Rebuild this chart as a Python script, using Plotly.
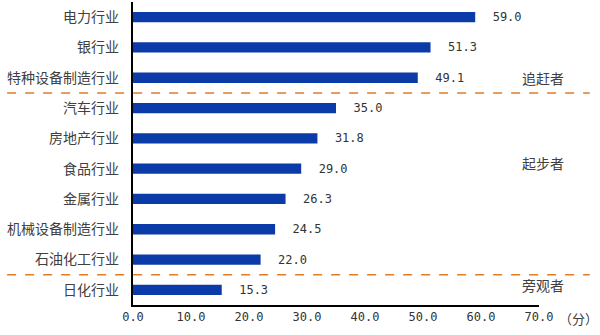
import plotly.graph_objects as go

categories = ["电力行业", "银行业", "特种设备制造行业", "汽车行业", "房地产行业",
              "食品行业", "金属行业", "机械设备制造行业", "石油化工行业", "日化行业"]
values = [59.0, 51.3, 49.1, 35.0, 31.8, 29.0, 26.3, 24.5, 22.0, 15.3]
tick_vals = [0, 10, 20, 30, 40, 50, 60, 70]
tick_text = ["0.0", "10.0", "20.0", "30.0", "40.0", "50.0", "60.0", "70.0"]
groups = ["追赶者", "起步者", "旁观者"]
group_y = [2, 4.8, 8.83]
divider_y = [2.5, 8.5]

num_font = "DejaVu Sans Mono"
cjk_font = "Noto Sans CJK SC"

fig = go.Figure(go.Bar(
    y=categories, x=values, orientation="h",
    marker=dict(color="#0B3BA8", line=dict(width=0)),
    width=0.34,
    text=["\u00a0\u00a0" + f"{v:.1f}" for v in values],
    textposition="outside",
    constraintext="none",
    textfont=dict(family=num_font, size=12, color="#333333"),
    cliponaxis=False,
))

fig.update_layout(
    width=600, height=335,
    margin=dict(l=133, r=61, t=2, b=30),
    plot_bgcolor="white", paper_bgcolor="white",
    showlegend=False,
    xaxis=dict(range=[0, 70], tickvals=tick_vals, ticktext=tick_text,
               showgrid=False, zeroline=False, showline=True, linecolor="black",
               linewidth=1.5, ticks="", tickfont=dict(family=num_font, size=12, color="#333333")),
    yaxis=dict(categoryorder="array", categoryarray=categories, autorange="reversed",
               showgrid=False, showline=True, linecolor="black", linewidth=1.5,
               ticks="", ticksuffix="   ", tickfont=dict(family=cjk_font, size=14, color="#404040")),
)

for yv in divider_y:
    fig.add_shape(type="line", xref="paper", yref="y", x0=-0.31, x1=1.125, y0=yv, y1=yv,
                  line=dict(color="#E07B28", width=1.5, dash="dash"))

for g, yv in zip(groups, group_y):
    fig.add_annotation(text=g, xref="paper", yref="y", x=1.01, y=yv, xanchor="center",
                       showarrow=False, font=dict(family=cjk_font, size=14, color="#404040"))

fig.add_annotation(text="（分）", xref="paper", yref="paper", x=1.045, y=-0.045, xanchor="left",
                   yanchor="middle", showarrow=False, font=dict(family=cjk_font, size=13, color="#404040"))

fig.write_html("out.html")
